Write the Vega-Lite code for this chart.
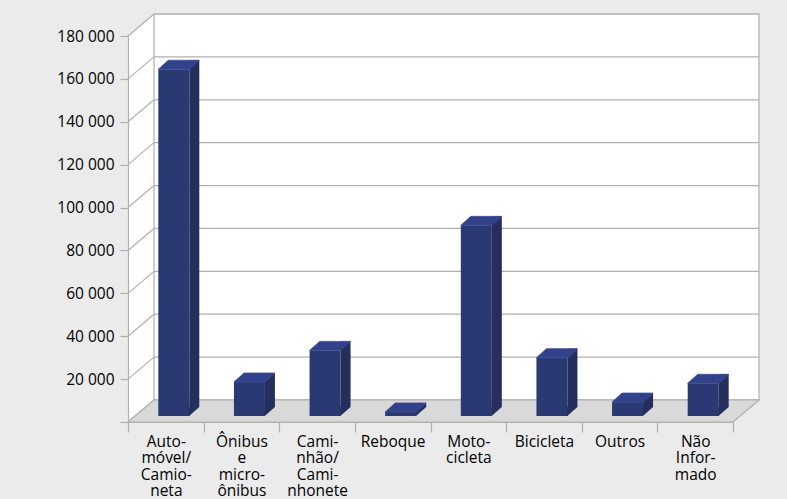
{
  "$schema": "https://vega.github.io/schema/vega-lite/v6.json",
  "width": 605,
  "height": 386,
  "autosize": {"type": "none"},
  "padding": {"left": 128, "top": 36, "right": 54, "bottom": 77},
  "background": "#EBEBEB",
  "config": {"view": {"stroke": null}, "font": "Open Sans"},
  "datasets": {
    "vehicles": [
      {"cat": "Auto- móvel/ Camio- neta", "value": 161700},
      {"cat": "Ônibus e micro- ônibus", "value": 15850},
      {"cat": "Cami- nhão/ Cami- nhonete", "value": 30600},
      {"cat": "Reboque", "value": 1900},
      {"cat": "Moto- cicleta", "value": 88900},
      {"cat": "Bicicleta", "value": 27200},
      {"cat": "Outros", "value": 6500},
      {"cat": "Não Infor- mado", "value": 15250}
    ],
    "ticks": [
      {"v": 0}, {"v": 20000}, {"v": 40000}, {"v": 60000}, {"v": 80000},
      {"v": 100000}, {"v": 120000}, {"v": 140000}, {"v": 160000}, {"v": 180000}
    ],
    "single": [{"part": "plano"}]
  },
  "layer": [
    {
      "data": {"name": "single"},
      "mark": {"type": "point", "shape": "M-0.0637,-0.8922L-0.0637,1L0.0637,0.8922L0.0637,-1Z", "size": 166464, "filled": true, "fill": "#FFFFFF", "opacity": 1, "strokeWidth": 0, "xOffset": -24.81, "yOffset": -11},
      "encoding": {
        "x": {"datum": "Auto- móvel/ Camio- neta", "type": "nominal"},
        "y": {"datum": 90000, "type": "quantitative"}
      }
    },
    {
      "data": {"name": "single"},
      "mark": {"type": "point", "shape": "M-1,-0.638L1,-0.638L1,0.638L-1,0.638Z", "size": 366025, "filled": true, "fill": "#FFFFFF", "stroke": "#B0B0B0", "strokeWidth": 1.2, "opacity": 1, "xOffset": 290.69, "yOffset": -22},
      "encoding": {
        "x": {"datum": "Auto- móvel/ Camio- neta", "type": "nominal"},
        "y": {"datum": 90000, "type": "quantitative"}
      }
    },
    {
      "data": {"name": "ticks"},
      "mark": {"type": "rule", "color": "#B0B0B0", "strokeWidth": 1.2, "xOffset": -11.81, "x2Offset": 63.81, "yOffset": -22, "y2Offset": -22},
      "encoding": {
        "x": {"datum": "Auto- móvel/ Camio- neta", "type": "nominal"},
        "x2": {"datum": "Não Infor- mado"},
        "y": {"field": "v", "type": "quantitative", "title": null},
        "y2": {"field": "v"}
      }
    },
    {
      "data": {"name": "ticks"},
      "mark": {"type": "rule", "color": "#B0B0B0", "strokeWidth": 1.2, "xOffset": -37.81, "x2Offset": -11.81, "y2Offset": -22},
      "encoding": {
        "x": {"datum": "Auto- móvel/ Camio- neta", "type": "nominal"},
        "x2": {"datum": "Auto- móvel/ Camio- neta"},
        "y": {"field": "v", "type": "quantitative", "title": null},
        "y2": {"field": "v"}
      }
    },
    {
      "data": {"name": "single"},
      "mark": {"type": "point", "shape": "M-1,0.03487L0.91759,0.03487L1,-0.03487L-0.91759,-0.03487Z", "size": 398161, "filled": true, "fill": "#D9D9D9", "stroke": "#B0B0B0", "strokeWidth": 1.2, "opacity": 1, "xOffset": 277.69, "yOffset": -11},
      "encoding": {
        "x": {"datum": "Auto- móvel/ Camio- neta", "type": "nominal"},
        "y": {"datum": 0, "type": "quantitative"}
      }
    },
    {
      "data": {"name": "vehicles"},
      "mark": {"type": "bar", "width": 31, "color": "#2B3973", "xOffset": 8, "yOffset": -6, "y2Offset": -6},
      "encoding": {
        "x": {
          "field": "cat", "type": "nominal", "sort": null,
          "scale": {
            "domain": ["Auto- móvel/ Camio- neta", "Ônibus e micro- ônibus", "Cami- nhão/ Cami- nhonete", "Reboque", "Moto- cicleta", "Bicicleta", "Outros", "Não Infor- mado"],
            "paddingInner": 0, "paddingOuter": 0
          },
          "axis": {
            "title": null, "labelAngle": 0, "labelAlign": "center", "labelExpr": "split(datum.label, ' ')",
            "labelFont": "Open Sans", "labelFontSize": 15.5, "labelLineHeight": 16.6,
            "labelColor": "#000000", "labelPadding": 2, "labelBaseline": "top",
            "tickBand": "extent", "tickSize": 10, "tickColor": "#B0B0B0", "tickWidth": 1.2,
            "domainColor": "#B0B0B0", "domainWidth": 1.2, "labelOverlap": false, "labelLimit": 200,
            "grid": false, "zindex": 1
          }
        },
        "y": {
          "field": "value", "type": "quantitative",
          "scale": {"domain": [0, 180000], "nice": false},
          "axis": {
            "title": null, "grid": false,
            "values": [0, 20000, 40000, 60000, 80000, 100000, 120000, 140000, 160000, 180000],
            "labelExpr": "datum.value == 0 ? '' : replace(format(datum.value, ','), ',', ' ')",
            "labelFont": "Open Sans", "labelFontSize": 15.5, "labelColor": "#000000",
            "labelPadding": 6, "tickSize": 8, "tickColor": "#B0B0B0", "tickWidth": 1.2,
            "domainColor": "#B0B0B0", "domainWidth": 1.2, "zindex": 1
          }
        },
        "y2": {"datum": 0}
      }
    },
    {
      "data": {"name": "vehicles"},
      "mark": {"type": "bar", "width": 10, "color": "#252F5E", "xOffset": 28.5, "yOffset": -15, "y2Offset": -15},
      "encoding": {
        "x": {"field": "cat", "type": "nominal", "sort": null},
        "y": {"field": "value", "type": "quantitative"},
        "y2": {"datum": 0}
      }
    },
    {
      "data": {"name": "vehicles"},
      "mark": {"type": "point", "shape": "M-1.1,-0.9L1,-0.9L-1.1,0.95Z", "size": 100, "filled": true, "fill": "#252F5E", "opacity": 1, "strokeWidth": 0, "xOffset": 28.5, "yOffset": -10.5},
      "encoding": {
        "x": {"field": "cat", "type": "nominal", "sort": null},
        "y": {"datum": 0, "type": "quantitative"}
      }
    },
    {
      "data": {"name": "vehicles"},
      "mark": {"type": "point", "shape": "M-1,0.2195L0.5122,0.2195L1,-0.2195L-0.5122,-0.2195Z", "size": 1681, "filled": true, "fill": "#32428A", "stroke": "#3E4E94", "strokeWidth": 0.8, "opacity": 1, "xOffset": 13, "yOffset": -10.5},
      "encoding": {
        "x": {"field": "cat", "type": "nominal", "sort": null},
        "y": {"field": "value", "type": "quantitative"}
      }
    }
  ]
}
